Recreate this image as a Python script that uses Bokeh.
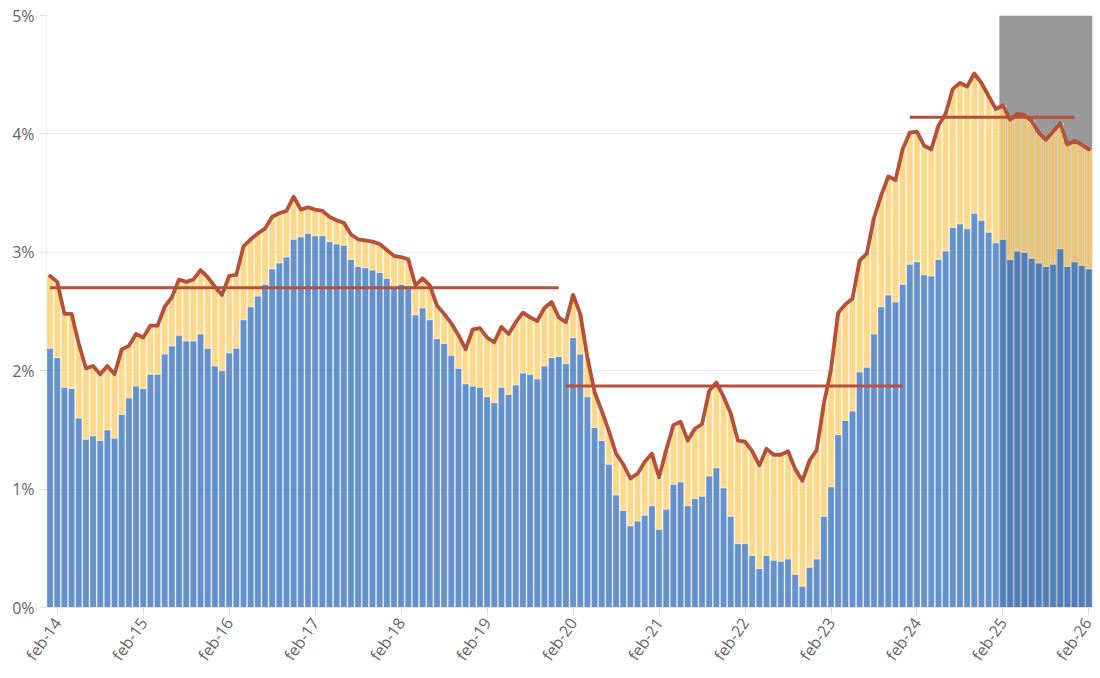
from bokeh.plotting import figure
from bokeh.models import ColumnDataSource, FixedTicker
from bokeh.embed import file_html
from bokeh.resources import INLINE

# ---------------- data ----------------
years = list(range(14, 27))
tick_labels = ["feb-%02d" % y for y in years]          # feb-14 ... feb-26
tick_index = [1 + 12 * k for k in range(len(years))]   # bar index of each February (bar 0 = jan-14)

blue = [
    2.19, 2.11, 1.86, 1.85, 1.60, 1.42, 1.45, 1.41, 1.50, 1.43, 1.63, 1.77,
    1.87, 1.85, 1.97, 1.97, 2.14, 2.21, 2.30, 2.25, 2.25, 2.31, 2.19, 2.04,
    2.00, 2.15, 2.19, 2.43, 2.54, 2.63, 2.73, 2.86, 2.91, 2.96, 3.11, 3.13,
    3.16, 3.14, 3.14, 3.09, 3.07, 3.06, 2.94, 2.88, 2.87, 2.85, 2.83, 2.78,
    2.71, 2.73, 2.72, 2.47, 2.53, 2.43, 2.27, 2.23, 2.13, 2.02, 1.89, 1.87,
    1.86, 1.78, 1.73, 1.86, 1.80, 1.88, 1.98, 1.97, 1.93, 2.04, 2.11, 2.12,
    2.06, 2.28, 2.14, 1.78, 1.52, 1.41, 1.21, 0.95, 0.82, 0.69, 0.73, 0.78,
    0.86, 0.66, 0.83, 1.04, 1.06, 0.86, 0.92, 0.94, 1.11, 1.18, 1.01, 0.77,
    0.54, 0.54, 0.44, 0.33, 0.44, 0.40, 0.39, 0.41, 0.28, 0.18, 0.34, 0.41,
    0.77, 1.02, 1.46, 1.58, 1.66, 1.99, 2.03, 2.31, 2.54, 2.64, 2.58, 2.73,
    2.90, 2.92, 2.81, 2.80, 2.94, 3.01, 3.21, 3.24, 3.20, 3.33, 3.27, 3.17,
    3.08, 3.11, 2.94, 3.01, 3.00, 2.95, 2.91, 2.88, 2.90, 3.03, 2.88, 2.92,
    2.89, 2.86,
]

total = [
    2.80, 2.75, 2.48, 2.48, 2.23, 2.02, 2.04, 1.97, 2.04, 1.97, 2.18, 2.21,
    2.31, 2.28, 2.38, 2.38, 2.54, 2.62, 2.77, 2.75, 2.77, 2.85, 2.79, 2.71,
    2.64, 2.80, 2.81, 3.05, 3.11, 3.16, 3.20, 3.30, 3.33, 3.35, 3.47, 3.36,
    3.38, 3.36, 3.35, 3.30, 3.27, 3.25, 3.15, 3.11, 3.10, 3.09, 3.07, 3.02,
    2.97, 2.96, 2.94, 2.72, 2.78, 2.72, 2.55, 2.48, 2.40, 2.30, 2.18, 2.35,
    2.36, 2.28, 2.24, 2.37, 2.31, 2.41, 2.49, 2.45, 2.42, 2.53, 2.58, 2.45,
    2.41, 2.64, 2.48, 2.11, 1.82, 1.66, 1.49, 1.30, 1.21, 1.09, 1.13, 1.23,
    1.30, 1.10, 1.33, 1.54, 1.57, 1.41, 1.51, 1.55, 1.83, 1.90, 1.78, 1.64,
    1.41, 1.40, 1.32, 1.20, 1.34, 1.29, 1.29, 1.32, 1.17, 1.07, 1.24, 1.33,
    1.72, 2.01, 2.49, 2.56, 2.61, 2.93, 2.99, 3.29, 3.48, 3.64, 3.61, 3.87,
    4.01, 4.02, 3.90, 3.87, 4.07, 4.17, 4.38, 4.43, 4.40, 4.51, 4.43, 4.32,
    4.21, 4.24, 4.12, 4.17, 4.16, 4.11, 4.01, 3.95, 4.02, 4.09, 3.91, 3.94,
    3.91, 3.87,
]

# period averages: (first bar index, last bar index, average %)
period_start = [0, 72, 120]
period_end = [71, 119, 143]
period_avg = [2.70, 1.87, 4.14]

# shaded (forecast) period starts at feb-25
shade_from_label = "feb-25"

# ---------------- chart ----------------
n = len(blue)
x = list(range(n))
src = ColumnDataSource(dict(x=x, blue=blue, total=total))

p = figure(width=1096, height=674, output_backend="svg", toolbar_location=None,
           x_range=(-0.5, n - 0.5), y_range=(0, 5),
           min_border_left=46, min_border_right=4, min_border_top=15, min_border_bottom=67)
p.outline_line_color = None
p.background_fill_color = "white"

# grey shaded region (behind bars)
s0 = tick_index[tick_labels.index(shade_from_label)]
p.quad(left=s0 - 0.5, right=n - 0.5, bottom=0, top=5, fill_color="#999999",
       line_color=None)

bar_w = 0.88
p.vbar(x="x", top="blue", bottom=0, width=bar_w, source=src,
       fill_color="#3E77BF", fill_alpha=0.8, line_color="white", line_alpha=0.45, line_width=0.8)
p.vbar(x="x", top="total", bottom="blue", width=bar_w, source=src,
       fill_color="#FFCF6E", fill_alpha=0.8, line_color="white", line_alpha=0.45, line_width=0.8)

red = "#B5503A"
p.line(x="x", y="total", source=src, line_color=red, line_width=3.8,
       line_join="round", line_cap="round")

for a, b, v in zip(period_start, period_end, period_avg):
    p.line([a, b], [v, v], line_color=red, line_width=3)

# axes
p.xaxis.ticker = FixedTicker(ticks=tick_index)
p.xaxis.major_label_overrides = {i: l for i, l in zip(tick_index, tick_labels)}
p.xaxis.major_label_orientation = 0.96
p.xaxis.axis_line_color = "#E6E6E6"
p.xaxis.major_tick_line_color = "#E0E0E0"
p.xaxis.major_tick_out = 7
p.xaxis.major_tick_in = 0
p.xaxis.minor_tick_line_color = None

p.yaxis.ticker = FixedTicker(ticks=[0, 1, 2, 3, 4, 5])
p.yaxis.major_label_overrides = {k: "%d%%" % k for k in range(6)}
p.yaxis.axis_line_color = "#EDEDED"
p.yaxis.major_tick_line_color = "#E0E0E0"
p.yaxis.major_tick_out = 7
p.yaxis.major_tick_in = 0
p.yaxis.minor_tick_line_color = None

for ax in (p.xaxis, p.yaxis):
    ax.major_label_text_font = "Open Sans"
    ax.major_label_text_font_size = "16px"
    ax.major_label_text_color = "#666666"

p.xgrid.grid_line_color = None
p.ygrid.grid_line_color = "#EBEBEB"
p.ygrid.grid_line_width = 1

open("out.html", "w").write(file_html(p, INLINE))
